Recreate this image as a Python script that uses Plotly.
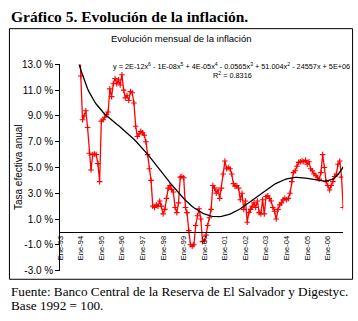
import numpy as np
import pandas as pd
import plotly.graph_objects as go

# Monthly year-on-year inflation (%), Jan-1993 .. Oct-2006
infl_1993 = [18.5, 19.0, 19.5, 20.0, 20.0, 19.5, 19.0, 18.5, 18.0, 17.5, 17.0, 16.5]
infl_1994 = [12.1, 8.7, 9.0, 9.4, 8.1, 6.1, 4.8, 6.0, 6.05, 6.0, 5.3, 3.9]
infl_1995 = [8.6, 8.7, 8.9, 9.1, 9.3, 11.1, 10.5, 11.5, 11.9, 11.5, 11.8, 11.4]
infl_1996 = [12.2, 11.0, 10.4, 10.6, 10.2, 10.9, 10.8, 10.0, 8.2, 7.4, 7.6, 7.8]
infl_1997 = [7.7, 7.5, 7.0, 6.0, 4.9, 4.0, 2.0, 1.9, 2.1, 2.0, 2.4, 2.0]
infl_1998 = [1.4, 1.75, 2.6, 3.4, 3.6, 3.3, 3.1, 1.9, 1.5, 2.25, 4.25, 4.3]
infl_1999 = [4.2, 1.9, 1.5, 0.1, -1.0, -1.1, -1.0, 0.5, 1.25, 1.8, 1.0, -0.75]
infl_2000 = [-0.7, -0.25, 0.5, 1.1, 1.75, 3.6, 3.4, 3.0, 3.25, 2.6, 3.4, 4.5]
infl_2001 = [5.5, 4.9, 5.0, 4.9, 4.5, 3.75, 3.55, 3.6, 3.4, 2.5, 3.0, 1.75]
infl_2002 = [2.4, 0.75, 1.5, 1.75, 2.0, 2.25, 1.9, 2.4, 1.5, 1.4, 2.5, 1.4]
infl_2003 = [2.75, 2.8, 2.6, 2.4, 1.9, 1.6, 1.0, 1.75, 2.1, 2.25, 2.5, 2.6]
infl_2004 = [2.5, 2.6, 3.0, 3.9, 4.6, 4.75, 5.1, 5.4, 5.45, 5.5, 5.45, 5.55]
infl_2005 = [5.25, 5.45, 4.9, 4.75, 4.5, 4.4, 4.2, 4.1, 4.6, 6.0, 5.0, 3.9]
infl_2006 = [3.6, 3.25, 3.6, 3.9, 4.3, 4.5, 5.25, 5.5, 4.25, 1.9]

inflation = np.array(
    infl_1993 + infl_1994 + infl_1995 + infl_1996 + infl_1997 + infl_1998
    + infl_1999 + infl_2000 + infl_2001 + infl_2002 + infl_2003 + infl_2004
    + infl_2005 + infl_2006
)
months = pd.date_range("1993-01-01", periods=len(inflation), freq="MS")

tick_dates = pd.date_range("1993-01-01", "2006-01-01", freq="YS")
tick_labels = ["Ene-" + d.strftime("%y") for d in tick_dates]

y_ticks = list(range(-3, 14, 2))
y_labels = [f"{v:.1f} %" for v in y_ticks]

equation = ("y = 2E-12x<sup>6</sup> - 1E-08x<sup>5</sup> + 4E-05x<sup>4</sup> "
            "- 0.0565x<sup>3</sup> + 51.004x<sup>2</sup> - 24557x + 5E+06")
r_squared = "R<sup>2</sup> = 0.8316"

# Sixth-order polynomial trend over the whole monthly series
t = np.arange(len(inflation), dtype=float)
tn = (t - t.mean()) / (t.max() - t.mean())
trend = np.polyval(np.polyfit(tn, inflation, 6), tn)

W, H = 358, 321
SANS = "Liberation Sans, Arial, sans-serif"
SERIF = "Liberation Serif, Times New Roman, serif"


def px(x):
    return x / W


def py(y):
    return 1 - y / H


fig = go.Figure()
fig.add_trace(go.Scatter(
    x=months, y=inflation, mode="lines+markers",
    line=dict(color="#FF0000", width=1.3),
    marker=dict(symbol="cross-thin", size=4,
                line=dict(color="#FF0000", width=1.1)),
    showlegend=False,
))
fig.add_trace(go.Scatter(
    x=months, y=trend, mode="lines",
    line=dict(color="#000000", width=1.3),
    showlegend=False,
))

fig.update_layout(
    width=W, height=H,
    margin=dict(l=0, r=0, t=0, b=0),
    paper_bgcolor="white", plot_bgcolor="white",
    font=dict(family=SANS, color="black"),
    xaxis=dict(
        type="date",
        domain=[px(56), px(343)],
        range=[months[0], months[-1]],
        anchor="free", position=py(235),
        showline=True, linecolor="black", linewidth=1,
        showgrid=False, zeroline=False, ticks="",
        tickmode="array", tickvals=tick_dates, ticktext=tick_labels,
        tickangle=-90, tickfont=dict(size=7.5, family=SANS),
    ),
    yaxis=dict(
        domain=[py(275), py(61.5)],
        range=[-3, 13],
        showline=True, linecolor="black", linewidth=1,
        showgrid=False, zeroline=False,
        ticks="outside", ticklen=4, tickcolor="black",
        tickmode="array", tickvals=y_ticks, ticktext=y_labels,
        tickfont=dict(size=10, family=SANS),
    ),
    shapes=[dict(
        type="rect", xref="paper", yref="paper",
        x0=px(4.5), x1=px(352.5), y0=py(284), y1=py(24.5),
        line=dict(color="black", width=1), fillcolor="rgba(0,0,0,0)",
    )],
    annotations=[
        dict(text="<b>Gráfico 5. Evolución de la inflación.</b>",
             xref="paper", yref="paper", x=px(4), y=py(12),
             xanchor="left", yanchor="middle", showarrow=False,
             font=dict(family=SERIF, size=15.5, color="black")),
        dict(text="Evolución mensual de la inflación",
             xref="paper", yref="paper", x=px(178), y=py(35),
             xanchor="center", yanchor="middle", showarrow=False,
             font=dict(family=SANS, size=9.5, color="black")),
        dict(text="Tasa efectiva anual",
             xref="paper", yref="paper", x=px(13), y=py(168),
             xanchor="center", yanchor="middle", textangle=-90,
             showarrow=False, font=dict(family=SANS, size=10, color="black")),
        dict(text=equation,
             xref="paper", yref="paper", x=px(352), y=py(63),
             xanchor="right", yanchor="middle", showarrow=False,
             font=dict(family=SANS, size=7.3, color="black")),
        dict(text=r_squared,
             xref="paper", yref="paper", x=px(231), y=py(73),
             xanchor="center", yanchor="middle", showarrow=False,
             font=dict(family=SANS, size=7.3, color="black")),
        dict(text="Fuente: Banco Central de la Reserva de El Salvador y Digestyc.",
             xref="paper", yref="paper", x=px(4), y=py(297),
             xanchor="left", yanchor="middle", showarrow=False,
             font=dict(family=SERIF, size=13.2, color="black")),
        dict(text="Base 1992 = 100.",
             xref="paper", yref="paper", x=px(4), y=py(311),
             xanchor="left", yanchor="middle", showarrow=False,
             font=dict(family=SERIF, size=13.2, color="black")),
    ],
)

fig.write_html("out.html")
